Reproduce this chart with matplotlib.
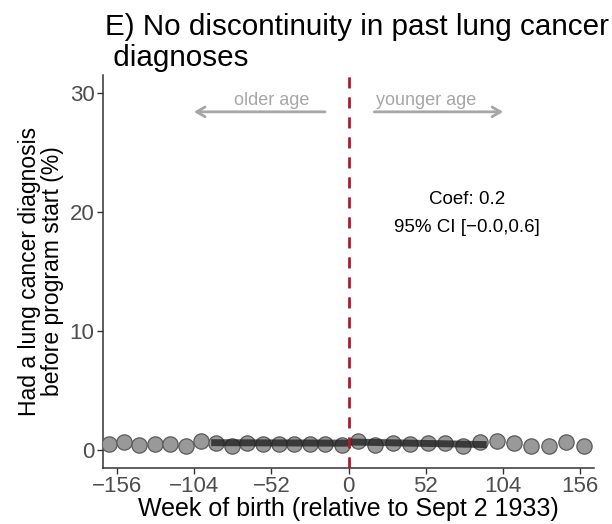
import matplotlib
matplotlib.use("Agg")
import matplotlib.pyplot as plt
import numpy as np

plt.rcParams['font.family'] = ['Liberation Sans', 'DejaVu Sans']

# binned means, left of cutoff (weeks, %)
left_weeks = [-161.3, -151.2, -141.1, -130.3, -120.2, -109.4, -99.3, -89.2,
              -78.4, -68.3, -57.5, -46.7, -36.6, -25.9, -15.7, -4.7]
left_vals = [0.52, 0.66, 0.42, 0.52, 0.52, 0.36, 0.80, 0.62,
             0.38, 0.62, 0.55, 0.55, 0.55, 0.55, 0.50, 0.45]
# binned means, right of cutoff
right_weeks = [6.1, 17.5, 29.7, 41.2, 53.4, 64.8, 77.0, 88.4,
               99.9, 111.4, 122.8, 135.0, 146.5, 158.6]
right_vals = [0.72, 0.45, 0.58, 0.50, 0.58, 0.58, 0.36, 0.66,
              0.80, 0.58, 0.30, 0.38, 0.66, 0.38]

# local linear fits (bandwidth ~92.5 weeks)
fit_left_x = [-92.5, 0.0]
fit_left_y = [0.62, 0.58]
fit_right_x = [0.0, 93.0]
fit_right_y = [0.68, 0.46]

coef_text = "Coef: 0.2"
ci_text = "95% CI [\u22120.0,0.6]"
xticks = [-156, -104, -52, 0, 52, 104, 156]
yticks = [0, 10, 20, 30]

fig = plt.figure(figsize=(6.12, 5.24), dpi=100)
ax = fig.add_axes([0.168, 0.107, 0.803, 0.750])

pt_kw = dict(marker='o', linestyle='none', markersize=11,
             markerfacecolor='#999999', markeredgecolor='#5a5a5a',
             markeredgewidth=0.9, zorder=3)
ax.plot(left_weeks, left_vals, **pt_kw)
ax.plot(right_weeks, right_vals, **pt_kw)

ax.plot(fit_left_x, fit_left_y, color='#1a1a1a', lw=5, alpha=0.75,
        solid_capstyle='butt', zorder=4)
ax.plot(fit_right_x, fit_right_y, color='#1a1a1a', lw=5, alpha=0.75,
        solid_capstyle='butt', zorder=4)

ax.axvline(0, color='#b2182b', lw=2, linestyle=(0, (4, 3.2)), zorder=5)

arrow_kw = dict(arrowstyle='->,head_length=0.6,head_width=0.35',
                color='#a6a6a6', lw=2)
ax.annotate('', xy=(-106, 28.4), xytext=(-14, 28.4), arrowprops=arrow_kw)
ax.annotate('', xy=(106, 28.4), xytext=(15.5, 28.4), arrowprops=arrow_kw)
ax.text(-52, 28.6, 'older age', color='#a6a6a6', fontsize=13,
        ha='center', va='bottom')
ax.text(52, 28.6, 'younger age', color='#a6a6a6', fontsize=13,
        ha='center', va='bottom')

ax.text(80, 21.0, coef_text, fontsize=13.5, ha='center', va='center')
ax.text(80, 18.7, ci_text, fontsize=13.5, ha='center', va='center')

ax.set_xlim(-165.5, 165.5)
ax.set_ylim(-1.5, 31.5)
ax.set_xticks(xticks)
ax.set_xticklabels([str(t).replace('-', '\u2212') for t in xticks])
ax.set_yticks(yticks)

for s in ['top', 'right']:
    ax.spines[s].set_visible(False)
for s in ['left', 'bottom']:
    ax.spines[s].set_color('#333333')
    ax.spines[s].set_linewidth(1.1)
ax.tick_params(axis='both', colors='#333333', labelcolor='#4d4d4d',
               labelsize=16, length=4, width=1, pad=2)

ax.set_xlabel('Week of birth (relative to Sept 2 1933)', fontsize=18,
              labelpad=0)
ax.set_ylabel('Had a lung cancer diagnosis\nbefore program start (%)',
              fontsize=16.5, labelpad=4, linespacing=1.0)

fig.text(0.172, 0.975, 'E) No discontinuity in past lung cancer\n diagnoses',
         fontsize=21.3, ha='left', va='top', linespacing=1.12)

fig.savefig('out.png', dpi=100)
